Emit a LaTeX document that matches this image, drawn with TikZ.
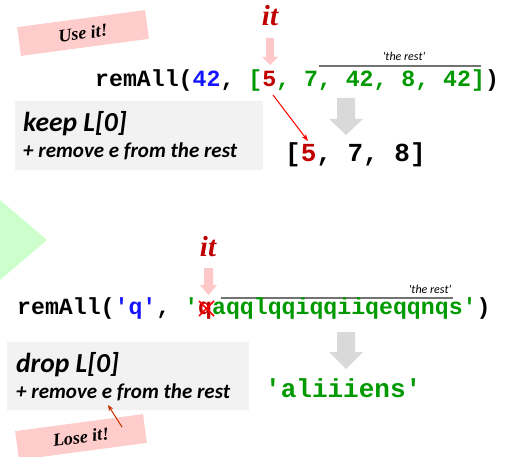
\documentclass[tikz,border=0pt]{standalone}
\usepackage{fontspec}
\setmainfont{Liberation Serif}
\newfontfamily\calfont{Carlito}
\newfontfamily\codefont{Liberation Mono}
\usetikzlibrary{arrows.meta}
\definecolor{cgreen}{RGB}{0,153,0}
\definecolor{cblue}{RGB}{20,20,255}
\definecolor{cred}{RGB}{192,0,0}
\definecolor{pinkbg}{RGB}{255,204,204}
\definecolor{pinkarrow}{RGB}{255,200,200}
\definecolor{graybox}{RGB}{242,242,242}
\definecolor{grayarrow}{RGB}{217,217,217}
\definecolor{trigreen}{RGB}{204,255,204}
\definecolor{brownred}{RGB}{200,50,0}
\tikzset{
  pinkbox/.style={fill=pinkbg, inner sep=0, minimum width=129, minimum height=29,
    font=\bfseries\itshape\fontsize{18}{18}\selectfont},
  itlabel/.style={anchor=base, inner sep=0, text=cred, font=\bfseries\itshape\fontsize{29}{29}\selectfont},
  codeline/.style={anchor=base west, inner sep=0, font=\codefont\bfseries\fontsize{23.2}{23}\selectfont},
  result/.style={anchor=base west, inner sep=0, font=\codefont\bfseries\fontsize{26}{26}\selectfont},
  restlabel/.style={anchor=base, inner sep=0, font=\calfont\itshape\fontsize{12}{12}\selectfont},
  restline/.style={draw=black!55, line width=1.4},
  title/.style={anchor=base west, inner sep=0, font=\calfont\bfseries\itshape\fontsize{27.5}{27.5}\selectfont},
  subtitle/.style={anchor=base west, inner sep=0, font=\calfont\bfseries\itshape\fontsize{21}{21}\selectfont},
  explainbox/.style={fill=graybox},
}
\begin{document}
\begin{tikzpicture}[x=1pt,y=-1pt]
\useasboundingbox (0,0) rectangle (522,457);

% ---------- top part ----------
\node[pinkbox, rotate=7.6] (use) at (83,33) {Use it!};
\node[itlabel] (it1) at (270,26) {it};
\fill[pinkarrow] (266,38) -- (274,38) -- (274,57) -- (278,57) -- (270,65) -- (262,57) -- (266,57) -- cycle;

\node[restlabel] (rest1) at (404,61) {'the rest'};
\coordinate (r1a) at (319,66);
\coordinate (r1b) at (481,66);
\draw[restline] (r1a) -- (r1b);

\node[codeline] (code1) at (95,87) {remAll(\textcolor{cblue}{42}, \textcolor{cgreen}{[}\textcolor{cred}{5}\textcolor{cgreen}{, 7, 42, 8, 42]})};

\fill[explainbox] (15,101) rectangle (263,170);
\node[title] (keep) at (23,132) {keep L[0]};
\node[subtitle] (keepsub) at (23,158) {+ remove e from the rest};

\fill[grayarrow] (337,98) -- (355,98) -- (355,119) -- (363,119) -- (346,135) -- (329,119) -- (337,119) -- cycle;

\node[result] (res1) at (285,162) {[\textcolor{cred}{5}, 7, 8]};

\coordinate (five1) at (273,95);
\coordinate (five2) at (308,141);
\draw[red, line width=1, -{Stealth[length=7pt,width=5pt]}] (five1) -- (five2);

% ---------- divider triangle ----------
\fill[trigreen] (0,200) -- (47,240) -- (0,280) -- cycle;

% ---------- bottom part ----------
\node[itlabel] (it2) at (208,256) {it};
\fill[pinkarrow] (204,268) -- (213,268) -- (213,285) -- (217,285) -- (208.5,295) -- (200,285) -- (204,285) -- cycle;

\node[restlabel] (rest2) at (430,293) {'the rest'};
\coordinate (r2a) at (221,298);
\coordinate (r2b) at (453,298);
\draw[restline] (r2a) -- (r2b);

\node[codeline] (code2) at (17,314) {remAll(\textcolor{cblue}{'q'}, \textcolor{cgreen}{'}\textcolor{cred}{q}\textcolor{cgreen}{aqqlqqiqqiiqeqqnqs'})};
\coordinate (xa) at (199,301);
\coordinate (xb) at (214,316);
\coordinate (xc) at (214,301);
\coordinate (xd) at (199,316);
\draw[red, line width=1.6] (xa) -- (xb) (xc) -- (xd);

\fill[explainbox] (7,342) rectangle (249,410);
\node[title] (drop) at (16,372) {drop L[0]};
\node[subtitle] (dropsub) at (16,398) {+ remove e from the rest};

\fill[grayarrow] (337,332) -- (355,332) -- (355,352) -- (363,352) -- (346,369) -- (329,352) -- (337,352) -- cycle;

\node[result, text=cgreen] (res2) at (265,397) {'aliiiens'};

\node[pinkbox, rotate=7.6] (lose) at (81,437) {Lose it!};
\coordinate (lose1) at (122,427);
\coordinate (lose2) at (108,405);
\draw[brownred, line width=1, -{Stealth[length=6pt,width=5pt]}] (lose1) -- (lose2);
\end{tikzpicture}
\end{document}
